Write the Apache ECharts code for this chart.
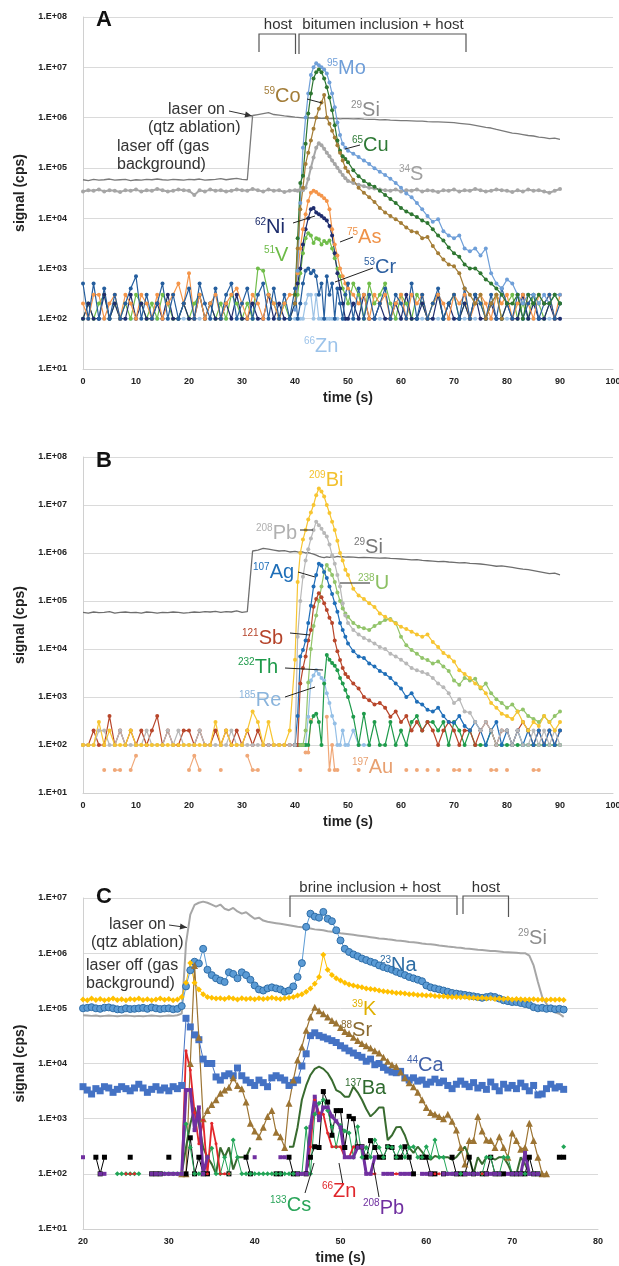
<!DOCTYPE html>
<html>
<head>
<meta charset="utf-8">
<script src="https://cdn.jsdelivr.net/npm/echarts@6/dist/echarts.min.js"></script>
<style>
html, body { margin: 0; padding: 0; background: #fff; }
#chart { width: 619px; height: 1266px; }
</style>
</head>
<body>
<div id="chart"></div>
<script>
var FONT = '"Liberation Sans", Arial, sans-serif';

// sweep times: 1 s outside the transient, 0.5 s across it (A and B), 0.5 s for C
var tA = [];
for (var t = 0; t < 40; t++) tA.push(t);
for (var t = 40; t < 50; t += 0.5) tA.push(t);
for (var t = 50; t <= 90; t++) tA.push(t);
var tC = [];
for (var i = 0; i <= 112; i++) tC.push(20 + i * 0.5);

// ---- panel A (cps) ----
var aSi = [
 5.8e4,5.6e4,5.9e4,5.7e4,5.8e4,6e4,5.7e4,5.8e4,5.9e4,5.6e4,
 5.8e4,5.7e4,5.9e4,5.8e4,6e4,5.8e4,5.7e4,5.9e4,5.8e4,5.7e4,
 5.9e4,5.8e4,6e4,5.7e4,5.8e4,5.9e4,6.1e4,5.8e4,6e4,6.2e4,
 5.9e4,5.8e4,1.1e6,1.15e6,1.2e6,1.25e6,1.15e6,1.12e6,1.08e6,1.05e6,
 1.02e6,1.01e6,1e6,9.9e5,1e6,9.9e5,9.8e5,9.9e5,9.7e5,9.8e5,
 9.6e5,9.7e5,9.6e5,9.5e5,9.6e5,9.5e5,9.6e5,9.4e5,9.5e5,9.5e5,
 9.5e5,9.4e5,9.5e5,9.3e5,9.2e5,9.2e5,9e5,9.1e5,8.9e5,8.8e5,
 8.7e5,8.7e5,8.6e5,8.5e5,8.5e5,8.3e5,8.2e5,8.2e5,8.1e5,8e5,
 7.9e5,7.7e5,7.5e5,7.3e5,7e5,6.7e5,6.4e5,6.2e5,5.8e5,5.5e5,
 5.2e5,4.9e5,4.8e5,4.6e5,4.4e5,4.3e5,4.1e5,4e5,3.8e5,3.9e5,
 3.7e5];
var aS = [
 3.4e4,3.6e4,3.5e4,3.7e4,3.4e4,3.6e4,3.5e4,3.3e4,3.6e4,3.5e4,
 3.7e4,3.4e4,3.6e4,3.5e4,3.8e4,3.6e4,3.4e4,3.5e4,3.7e4,3.6e4,
 3.5e4,2.9e4,3.6e4,3.4e4,3.7e4,3.5e4,3.6e4,3.4e4,3.5e4,3.7e4,
 3.6e4,3.5e4,3.8e4,3.6e4,3.4e4,3.7e4,3.5e4,3.6e4,3.3e4,3.5e4,
 3.6e4,3.5e4,3.7e4,3.6e4,4e4,6e4,1e5,1.6e5,2.5e5,3.1e5,
 2.8e5,2.4e5,2e5,1.7e5,1.4e5,1.2e5,1e5,8.5e4,7.2e4,6.2e4,
 5.5e4,5e4,4.6e4,4.3e4,4e4,3.9e4,3.7e4,3.6e4,3.5e4,3.7e4,
 3.4e4,3.6e4,3.5e4,3.7e4,3.4e4,3.6e4,3.5e4,3.3e4,3.6e4,3.5e4,
 3.7e4,3.4e4,3.6e4,3.5e4,3.8e4,3.6e4,3.4e4,3.5e4,3.7e4,3.6e4,
 3.5e4,3.3e4,3.6e4,3.4e4,3.7e4,3.5e4,3.6e4,3.4e4,3.2e4,3.5e4,
 3.8e4];
var aMo = [ // from 40 s
 150,900,2e4,2.5e5,1e6,3e6,7e6,1e7,1.2e7,1.1e7,
 1e7,9e6,7.5e6,5e6,3e6,1.6e6,8e5,4.5e5,3e5,2.5e5,
 2.2e5,1.9e5,1.65e5,1.4e5,1.2e5,9.8e4,8.4e4,7.2e4,6.1e4,5e4,
 4e4,3.1e4,2.6e4,2e4,1.5e4,1.1e4,8.5e3,9.5e3,5.5e3,4.5e3,
 4e3,4.5e3,2.5e3,2.2e3,2.5e3,1.8e3,2.5e3,800,500,400,
 600,500,300,200,300,300,200,300,200,300,
 300];
var aCu = [ // from 40 s
 300,4e3,5e4,7e4,3e5,1.2e6,3e6,6e6,8e6,9e6,
 8e6,6e6,4e6,2.5e6,1.4e6,7e5,3.5e5,2.2e5,1.7e5,1.5e5,
 1.3e5,9e4,6.8e4,5.5e4,4.7e4,4.2e4,3.5e4,2.9e4,2.4e4,2e4,
 1.6e4,1.35e4,1.2e4,1.05e4,9e3,8e3,6e3,4.5e3,3.6e3,2.6e3,
 2e3,1.7e3,1.2e3,1e3,1e3,800,600,500,400,300,
 200,200,300,100,300,200,300,200,200,300,
 200];
var aCo = [ // from 40 s
 200,2500,1.5e4,4e4,1.2e5,2e5,3.5e5,6e5,1e6,1.5e6,
 2e6,2.8e6,1e6,7.5e5,5.5e5,4e5,2.8e5,2e5,1.4e5,1e5,
 8.5e4,5.8e4,4e4,3.2e4,2.6e4,2.1e4,1.6e4,1.3e4,1.1e4,9.5e3,
 8e3,6.5e3,5.5e3,5.2e3,4e3,4.2e3,2.8e3,2e3,1.5e3,1.2e3,
 1.1e3,800,400,300,200,300,100,200,300,100];
var aAs = [
 200,100,300,300,100,200,300,100,300,200,
 100,300,200,100,300,100,200,300,500,200,
 800,100,300,100,200,300,100,200,300,400,
 200,100,300,200,100,300,200,100,200,300,
 300,800,2500,6000,1.2e4,2.2e4,3.2e4,3.5e4,3.3e4,3e4,
 2.8e4,2.5e4,2.2e4,1.5e4,6e3,3e3,1.8e3,1e3,700,500,
 400,300,200,300,100,300,200,300,100,200,
 300,100,300,200,300,100,200,300,200,100,
 300,200,300,100,200,300,200,100,300,200,
 300,100,200,300,200,100,300,200,300,100,
 300];
var aCr = [
 500,100,500,100,400,100,300,100,200,400,
 700,100,300,100,200,500,100,300,100,200,
 400,100,500,200,100,400,100,300,500,100,
 200,400,100,300,500,100,400,100,300,100,
 400,100,200,500,900,1e3,800,900,700,300,
 500,100,700,300,500,100,400,200,100,300,
 500,100,400,100,300,100,200,400,100,300,
 200,100,500,100,300,100,200,400,100,200,
 300,100,400,100,300,200,100,300,100,400,
 200,100,300,100,200,300,100,200,300,100,
 200];
var aNi = [
 100,200,100,100,300,100,200,100,100,300,
 100,200,100,100,200,100,300,100,100,200,
 100,100,300,100,200,100,100,200,100,300,
 100,100,200,100,100,300,100,200,100,100,
 200,500,1e3,3e3,6e3,1e4,1.5e4,1.6e4,1.3e4,1.2e4,
 1.1e4,1e4,9e3,7e3,4.5e3,2e3,800,400,200,100,
 100,200,100,300,100,100,200,100,100,200,
 100,300,100,100,200,100,100,300,100,200,
 100,100,200,100,300,100,100,200,100,100,
 200,100,100,300,100,200,100,100,200,100,
 100];
var aV = [
 100,200,100,200,300,100,200,100,200,100,
 300,200,100,200,100,300,200,100,100,200,
 100,200,300,100,200,100,200,100,300,200,
 100,200,100,1e3,900,300,200,100,200,100,
 200,300,800,2e3,4e3,5e3,4.5e3,3.2e3,4e3,3.8e3,
 3e3,3.5e3,3.2e3,3.6e3,2.5e3,1.6e3,1e3,700,400,300,
 200,500,300,100,500,200,300,500,200,100,
 300,200,100,300,200,100,200,300,100,200,
 300,100,200,100,300,200,100,200,300,100,
 200,300,100,200,100,300,200,100,200,300,
 200];
var aZn = [
 100,100,null,100,100,100,null,100,100,100,
 100,null,100,100,100,100,100,null,100,100,
 100,100,100,null,100,100,100,100,null,100,
 100,100,100,100,100,null,100,100,100,100,
 100,100,100,100,200,300,300,100,300,100,
 100,100,100,100,100,100,100,null,100,100,
 100,100,100,null,100,100,100,100,100,100,
 100,null,100,100,100,100,100,100,null,100,
 100,100,100,100,100,null,100,100,100,100,
 100,100,null,100,100,100,100,100,100,100,
 100];

// ---- panel B (cps) ----
var bSi = [
 5.8e4,5.6e4,5.9e4,5.7e4,5.8e4,6e4,5.6e4,5.8e4,5.9e4,5.7e4,
 5.8e4,5.6e4,5.9e4,5.8e4,5.6e4,5.8e4,5.7e4,5.9e4,5.8e4,5.6e4,
 5.7e4,5.9e4,5.8e4,6e4,5.9e4,6.1e4,5.8e4,6e4,5.9e4,6.2e4,
 5.8e4,6e4,1.1e6,1.15e6,1.25e6,1.2e6,1.15e6,1.1e6,1.12e6,1.05e6,
 1.08e6,1.05e6,1.04e6,1.05e6,1e6,1.02e6,9.8e5,9.5e5,9e5,8.5e5,
 8.2e5,8e5,8.3e5,8.1e5,8.4e5,8.2e5,8.5e5,8.3e5,8.4e5,8.2e5,
 8.3e5,8.2e5,8e5,8.1e5,8e5,7.9e5,7.8e5,7.9e5,7.7e5,7.6e5,
 7.5e5,7.4e5,7.2e5,7.3e5,7e5,6.9e5,6.8e5,6.6e5,6.7e5,6.5e5,
 6.4e5,6.2e5,6.3e5,6.1e5,6e5,5.9e5,5.7e5,5.5e5,5.3e5,5.4e5,
 5.2e5,5e5,4.8e5,4.6e5,4.5e5,4.3e5,4.1e5,3.9e5,3.7e5,3.8e5,
 3.5e5];
var bBi = [
 100,100,100,300,100,200,100,100,100,200,
 100,100,100,100,100,100,100,100,100,100,
 100,100,100,100,100,300,100,200,100,100,
 100,200,500,300,100,300,100,100,100,200,
 6e3,2.5e5,1e6,1.9e6,3e6,5e6,7e6,1e7,1.6e7,2.2e7,
 1.9e7,1.5e7,1e7,6.8e6,4.5e6,3e6,1.8e6,1e6,7e5,4.5e5,
 3.5e5,1.8e5,1.3e5,1.1e5,9e4,7.5e4,5.5e4,4.7e4,4e4,3.4e4,
 2.9e4,2.6e4,2.3e4,2e4,1.8e4,2e4,1.4e4,1.1e4,8.3e3,7e3,
 5.5e3,3.6e3,3e3,2.5e3,1.9e3,1.6e3,1.2e3,750,600,450,
 400,350,500,300,200,300,250,400,300,200,
 300];
var bPb = [
 100,100,100,200,200,100,100,200,100,100,
 100,100,200,100,100,100,200,100,200,100,
 100,100,200,100,100,100,100,100,200,100,
 100,100,100,100,100,100,100,100,100,100,
 100,1.8e4,1e5,3.2e5,7e5,1.2e6,2e6,3e6,4.5e6,3.8e6,
 3.2e6,2.6e6,2.2e6,1.5e6,9e5,6e5,3.5e5,2e5,9e4,5e4,
 3.5e4,2.5e4,2e4,1.7e4,1.5e4,1.3e4,1.1e4,1e4,8e3,7e3,
 6e3,5e3,4e3,3.6e3,3.3e3,3e3,2.5e3,1.9e3,1.6e3,1.2e3,
 750,900,500,470,300,200,300,200,100,200,
 200,100,200,100,100,200,100,200,100,200,
 100];
var bAg = [ // from 40 s
 100,400,7e3,9.5e3,1.5e4,3.5e4,8e4,2e5,3.5e5,6e5,
 5.5e5,4e5,3e5,2e5,1.4e5,9e4,6e4,3.5e4,2.5e4,1.8e4,
 1.3e4,9e3,7e3,6.5e3,5e3,4.3e3,3.5e3,3e3,2.5e3,1.9e3,
 1.5e3,1e3,1.2e3,800,700,540,500,600,400,300,
 290,400,250,200,300,200,100,200,300,100,
 200,100,200,100,200,100,200,100,200,100,
 200];
var bU = [ // from 41 s
 100,100,200,2e3,1e4,3e4,5e4,1e5,2e5,4e5,
 5.6e5,4.5e5,3.5e5,2.5e5,1.5e5,1e5,7e4,5.5e4,
 4.7e4,3.5e4,2.9e4,2.7e4,2.5e4,3e4,3.5e4,4e4,4.2e4,3.5e4,
 1.8e4,1.2e4,9.5e3,8e3,6.5e3,5.9e3,5e3,5.5e3,4.3e3,3.5e3,
 2.2e3,1.8e3,2.5e3,2.2e3,2.4e3,1.5e3,1.9e3,1.2e3,900,750,
 600,700,500,550,400,350,300,400,300,400,
 500];
var bSb = [
 100,100,200,100,100,400,100,200,100,200,
 100,200,100,200,400,100,200,100,100,200,
 200,100,200,100,100,200,100,200,100,200,
 100,200,100,200,100,100,100,100,100,100,
 100,100,1.9e3,4e3,7e3,1.5e4,2.5e4,7.6e4,1.1e5,1.45e5,
 1.2e5,9e4,6.5e4,4.5e4,3.5e4,1.5e4,9e3,5.9e3,4e3,3e3,
 2.6e3,1.9e3,1.5e3,1e3,860,700,750,600,390,500,
 300,400,200,300,200,300,200,100,200,300,
 200,100,200,200,100,200,300,200,100,200,
 200,100,200,300,200,100,200,100,200,100,
 200];
var bTh = [ // from 40 s
 100,100,100,100,100,100,300,400,450,300,
 100,1.9e3,7.5e3,6e3,5.1e3,4.5e3,3.6e3,2.5e3,1.9e3,1.4e3,
 1e3,390,100,450,100,300,100,100,300,100,
 200,100,300,400,200,300,300,200,300,100,
 300,200,100,200,100,100,100,200,100,100,
 100,100,100,100,100,100,100,100,100,100,
 100];
var bRe = [ // from 40 s
 100,100,100,100,100,390,2.2e3,2.8e3,3.6e3,3e3,
 2.5e3,2.2e3,1.2e3,750,400,280,100,100,200,100,
 100,200,100,100,100];
var bAu = [
 null,null,null,null,30,null,30,30,null,30,
 60,null,null,null,null,null,null,null,null,null,
 30,60,30,null,null,null,30,null,null,null,
 null,60,30,30,null,null,null,null,null,null,
 null,null,30,null,70,70,330,null,null,null,
 null,null,390,30,100,30,30,null,null,null,
 null,null,30,null,null,null,null,null,null,null,
 null,30,null,30,null,30,null,30,null,null,
 30,30,null,30,null,null,null,30,30,null,
 30,null,null,null,null,30,30,null,null,null,
 null];

// ---- panel C (cps), 0.5 s from 20 s ----
var cSi = [
 7.5e4,7.4e4,7.3e4,7.4e4,7.2e4,7.3e4,7.4e4,7.3e4,
 7.2e4,7.3e4,7.4e4,7.3e4,7.2e4,7.3e4,7.2e4,7.3e4,
 7.4e4,7.3e4,7.2e4,7.3e4,7.4e4,7.3e4,7.5e4,8e4,
 1.5e6,5e6,7.5e6,8.2e6,8.6e6,8.2e6,7.6e6,7e6,
 7.6e6,6.4e6,6e6,6.6e6,5.7e6,5.2e6,5.5e6,4.8e6,
 4.2e6,4.4e6,3.9e6,3.7e6,3.6e6,3.5e6,3.4e6,3.3e6,
 3.2e6,3.1e6,3e6,2.95e6,2.85e6,2.8e6,2.7e6,2.65e6,
 2.6e6,2.5e6,2.45e6,2.4e6,2.3e6,2.25e6,2.2e6,2.15e6,
 2.1e6,2.05e6,2e6,1.95e6,1.9e6,1.85e6,1.82e6,1.78e6,
 1.75e6,1.7e6,1.68e6,1.65e6,1.6e6,1.58e6,1.55e6,1.5e6,
 1.47e6,1.45e6,1.42e6,1.38e6,1.35e6,1.32e6,1.3e6,1.27e6,
 1.25e6,1.22e6,1.2e6,1.18e6,1.15e6,1.14e6,1.12e6,1.1e6,
 1.09e6,1.07e6,1.05e6,1.04e6,1.03e6,1.02e6,1e6,1e6,
 9e5,6e5,3e5,1.6e5,1.2e5,1e5,8.5e4,8e4,
 7e4];
var cNa = [
 1e5,1.02e5,1.05e5,1e5,9.8e4,1.03e5,1.04e5,1e5,
 9.6e4,9.5e4,1e5,9.7e4,9.8e4,1e5,1.02e5,9.8e4,
 1.04e5,1e5,9.7e4,9.9e4,1e5,9.6e4,9.8e4,1.1e5,
 2.5e5,4.9e5,7e5,6.5e5,1.2e6,5e5,4e5,3.5e5,
 3.2e5,3e5,4.5e5,4.2e5,3.5e5,4.5e5,4e5,3.3e5,
 2.6e5,2.2e5,2.1e5,2.3e5,2.4e5,2.3e5,2.2e5,2e5,
 2.1e5,2.5e5,3.7e5,6.6e5,3e6,5.2e6,4.6e6,4.4e6,
 5.6e6,4.2e6,3.8e6,2.6e6,1.7e6,1.2e6,1.05e6,9.5e5,
 8.8e5,8e5,7.5e5,7e5,6.6e5,6e5,5.6e5,5.3e5,
 5e5,4.6e5,4.3e5,4e5,3.7e5,3.5e5,3.3e5,3.1e5,
 2.6e5,2.4e5,2.3e5,2.2e5,2.1e5,2e5,1.9e5,1.85e5,
 1.8e5,1.75e5,1.7e5,1.65e5,1.6e5,1.55e5,1.6e5,1.65e5,
 1.6e5,1.5e5,1.4e5,1.35e5,1.3e5,1.3e5,1.25e5,1.2e5,
 1.15e5,1.05e5,1e5,1.02e5,9.8e4,1e5,9.6e4,9.8e4,
 9.5e4];
var cK = [
 1.45e5,1.4e5,1.5e5,1.42e5,1.48e5,1.4e5,1.45e5,1.5e5,
 1.42e5,1.46e5,1.4e5,1.48e5,1.44e5,1.5e5,1.42e5,1.46e5,
 1.4e5,1.45e5,1.5e5,1.43e5,1.47e5,1.4e5,1.45e5,1.6e5,
 2.9e5,6.6e5,2.9e5,2.2e5,1.8e5,1.6e5,1.55e5,1.5e5,
 1.52e5,1.48e5,1.55e5,1.5e5,1.45e5,1.52e5,1.48e5,1.5e5,
 1.46e5,1.52e5,1.48e5,1.5e5,1.55e5,1.5e5,1.48e5,1.52e5,
 1.55e5,1.6e5,1.7e5,1.8e5,2e5,2.3e5,2.8e5,3.7e5,
 9.4e5,5e5,4e5,3.5e5,3.2e5,2.9e5,2.7e5,2.6e5,
 2.5e5,2.4e5,2.3e5,2.25e5,2.2e5,2.1e5,2.05e5,2e5,
 1.95e5,1.9e5,1.9e5,1.85e5,1.8e5,1.8e5,1.75e5,1.75e5,
 1.7e5,1.72e5,1.68e5,1.65e5,1.66e5,1.62e5,1.6e5,1.6e5,
 1.58e5,1.6e5,1.55e5,1.56e5,1.52e5,1.55e5,1.5e5,1.52e5,
 1.48e5,1.5e5,1.47e5,1.5e5,1.45e5,1.48e5,1.46e5,1.45e5,
 1.44e5,1.46e5,1.43e5,1.45e5,1.42e5,1.44e5,1.43e5,1.45e5,
 1.42e5];
var cSr = [ // from 31.5 s
 100,
 100,1e4,6e5,3e4,1e3,1.4e3,1.8e3,2.2e3,
 2.9e3,3.3e3,3.7e3,5.5e3,4e3,3.5e3,2e3,830,
 600,470,700,1.1e3,1.4e3,570,470,300,
 1.9e3,5e3,1.16e4,2e4,4e4,7e4,1.05e5,9e4,
 8e4,7e4,6e4,5.4e4,4.5e4,3.8e4,3.5e4,3e4,
 2.6e4,2.3e4,2.1e4,1.9e4,1.7e4,1.55e4,1.3e4,1.1e4,
 9.5e3,8.8e3,7e3,5.5e3,4.5e3,3.8e3,3e3,2.2e3,
 1.6e3,1.3e3,1.2e3,1.1e3,1e3,1.2e3,900,620,
 300,150,400,400,1.1e3,600,410,400,
 300,470,300,200,550,400,280,300,
 830,400,200,100,100];
var cCa = [
 3.8e3,3.3e3,2.8e3,3.5e3,3.2e3,3.8e3,3.6e3,3e3,
 3.4e3,3.8e3,3.5e3,3.2e3,3.6e3,4.2e3,3.6e3,3e3,
 3.4e3,3.8e3,3.3e3,3.6e3,3.2e3,3.8e3,3.5e3,4e3,
 6.6e4,4.6e4,3.3e4,2.7e4,1.2e4,1e4,1e4,5.7e3,
 5e3,6e3,6.5e3,6e3,8.3e3,6e3,5e3,4.5e3,
 4e3,5e3,4.5e3,3.8e3,5.5e3,6e3,5.5e3,5e3,
 4e3,4.5e3,5e3,9e3,1.5e4,3.2e4,3.6e4,3.2e4,
 3e4,2.8e4,2.6e4,2.4e4,2.1e4,1.9e4,1.7e4,1.55e4,
 1.4e4,1.3e4,1.1e4,1.2e4,9.5e3,1e4,8.5e3,7.6e3,
 7e3,6.8e3,7.2e3,5.5e3,5e3,5.5e3,4.8e3,5e3,
 4.2e3,4.6e3,5.2e3,4.5e3,4.8e3,4e3,3.5e3,4.2e3,
 4.8e3,4.2e3,3.8e3,4.5e3,3.6e3,4e3,3.4e3,4.6e3,
 3.8e3,3.2e3,4.2e3,3.6e3,4e3,3.5e3,4.4e3,3.8e3,
 3.2e3,4e3,2.7e3,2.8e3,3.5e3,4.2e3,3.6e3,3.8e3,
 3.4e3];
var cBa = [ // from 31.5 s
 100,
 300,800,1.6e3,800,300,200,150,100,
 300,200,300,120,200,200,200,300,
 null,null,null,null,null,null,null,null,
 310,310,700,2.2e3,4e3,6.2e3,8e3,8.8e3,
 8e3,6.7e3,5e3,3.3e3,3e3,2.5e3,2.5e3,3.8e3,
 3e3,2.2e3,1.5e3,1.1e3,1.3e3,1.6e3,1.6e3,410,
 500,700,710,500,300,240,310,250,
 200,180,210,200,200,200,180,200,
 250,310,200,100,200,150,200,200,
 180,200,200,150,100,100,200,150,
 100,100,100];
var cZn = [ // from 25 s
 100,100,100,null,null,null,null,null,null,100,100,100,100,100,
 1.7e4,7.6e3,1.3e3,350,940,100,830,350,
 100,100,100,null,null,null,null,null,
 null,null,null,null,null,null,null,null,
 null,null,null,100,100,310,2.2e3,1.27e3,
 1.2e3,550,310,310,310,200,200,310,
 310,300,100,100,100,null,null,null,
 100,100,100,100,100,null,null,null,
 null,100,100,100,null,null,null,null,
 null,null,null,null,100,100,100,null,
 null,null,null,null,null,null,null,null,
 null,null,null];
var cPb = [
 200,null,null,null,100,100,null,null,
 null,null,null,null,null,null,null,null,
 100,100,100,100,100,100,100,100,
 3.3e3,3.3e3,620,1.6e3,100,200,null,null,
 null,null,null,null,null,null,null,null,
 200,null,null,null,null,null,200,200,
 null,null,100,100,100,700,2.5e3,940,
 1.6e3,1.6e3,1.1e3,900,700,200,200,200,
 300,310,100,100,200,null,100,100,
 100,null,100,100,100,null,null,100,
 100,100,null,null,100,100,100,100,
 null,100,100,100,100,null,100,100,
 100,100,null,100,100,100,100,240,
 100,100,100];
var cCs = [ // from 24 s
 100,100,100,100,100,100,null,null,
 null,null,100,100,100,100,100,100,
 800,300,100,100,100,200,290,100,
 100,200,100,410,200,100,100,100,
 100,100,100,100,100,100,100,100,
 100,100,100,100,680,100,1.2e3,1.9e3,
 2.2e3,1.4e3,710,310,750,600,550,200,
 710,200,300,200,410,300,200,310,
 300,200,310,200,300,310,200,200,
 310,200,410,200,200,100,100,100,
 100,100,100,100,100,100,200,200,
 100,100,200,200,100,100,100,100,
 100,100,100,null,null,null,null,null,
 310];
var cBk = [
 null,null,null,200,100,200,null,null,
 null,null,null,200,null,null,null,null,
 100,100,100,null,200,null,null,null,
 100,450,100,200,100,100,null,null,
 null,null,100,null,null,null,200,100,
 null,null,null,null,null,100,100,null,
 200,100,100,null,100,200,310,300,
 3.1e3,2e3,500,1.4e3,1.4e3,300,1.1e3,1e3,
 310,310,200,400,300,200,200,310,
 300,200,200,310,200,100,null,200,
 200,100,100,null,100,null,200,100,
 100,100,200,100,null,100,100,200,
 100,100,100,null,100,100,100,100,
 200,100,100,null,null,null,null,200,
 200];

// ---- annotations (pixel positions) ----
var panelLetters = [['A', 96, 20], ['B', 96, 461], ['C', 96, 897]];
var notes = [
  ['laser on', 168, 110], ['(qtz ablation)', 148, 128], ['laser off (gas', 117, 147], ['background)', 117, 165],
  ['laser on', 109, 925], ['(qtz ablation)', 91, 943], ['laser off (gas', 86, 966], ['background)', 86, 984]
];
var bracketNotes = [
  ['host', 278, 25], ['bitumen inclusion + host', 383, 25],
  ['brine inclusion + host', 370, 888], ['host', 486, 888]
];
var brackets = [
  [[259, 52], [259, 34], [295.5, 34], [295.5, 54]],
  [[299, 54], [299, 34], [466, 34], [466, 52]],
  [[290, 917], [290, 896], [457, 896], [457, 915]],
  [[463, 914], [463, 896], [508.5, 896], [508.5, 917]]
];
var arrows = [[229, 111, 252, 116], [169, 925, 187, 927.5]];
var isoLabels = [
  [327, 68, '95', 'Mo', '#6f9ed8'], [264, 96, '59', 'Co', '#a27c37'], [351, 110, '29', 'Si', '#8c8c8c'],
  [352, 145, '65', 'Cu', '#2f7a36'], [399, 174, '34', 'S', '#a0a0a0'], [255, 227, '62', 'Ni', '#1c2b6b'],
  [347, 237, '75', 'As', '#ef9248'], [264, 255, '51', 'V', '#6dbb48'], [364, 267, '53', 'Cr', '#2c5fa0'],
  [304, 346, '66', 'Zn', '#9cc3ea'],
  [309, 480, '209', 'Bi', '#f2c12e'], [256, 533, '208', 'Pb', '#b0b0b0'], [354, 547, '29', 'Si', '#777777'],
  [253, 572, '107', 'Ag', '#1f6fb8'], [358, 583, '238', 'U', '#8cc063'], [242, 638, '121', 'Sb', '#b5432a'],
  [238, 667, '232', 'Th', '#1e9a4a'], [239, 700, '185', 'Re', '#8ab4dc'], [352, 767, '197', 'Au', '#e8a070'],
  [518, 938, '29', 'Si', '#8c8c8c'], [380, 965, '23', 'Na', '#2e6da4'], [352, 1009, '39', 'K', '#e0b000'],
  [341, 1030, '88', 'Sr', '#8a6a30'], [407, 1065, '44', 'Ca', '#4060a8'], [345, 1088, '137', 'Ba', '#2f6b2f'],
  [270, 1205, '133', 'Cs', '#2aa55a'], [322, 1191, '66', 'Zn', '#e0262b'], [363, 1208, '208', 'Pb', '#7030a0']
];
var leaders = [
  [307, 99, 322, 103], [360, 145, 345, 149], [293, 223, 315, 216], [353, 237, 340, 242], [373, 268, 335, 282],
  [300, 530, 313, 530], [298, 572, 315, 577], [370, 583, 340, 583], [290, 633, 310, 635], [285, 668, 323, 670], [285, 697, 315, 687],
  [305, 1193, 314, 1163], [343, 1185, 339, 1163], [379, 1197, 373, 1163]
];

function pts(ts, vals, off) {
  off = off || 0;
  return vals.map(function (v, i) { return [ts[i + off], v == null ? '-' : v]; });
}

function line(grid, name, data, color, o) {
  o = o || {};
  var size = o.size == null ? 4 : o.size;
  return {
    name: name, type: 'line', xAxisIndex: grid, yAxisIndex: grid, data: data,
    symbol: size ? (o.symbol || 'circle') : 'none', symbolSize: size,
    lineStyle: { color: color, width: o.width || 1.2 },
    itemStyle: { color: o.fill || color, borderColor: o.border || color, borderWidth: o.border ? 1 : 0 },
    connectNulls: false, silent: true, animation: false, z: 2
  };
}

var axisFont = { fontFamily: FONT, fontSize: 9, fontWeight: 'bold', color: '#222' };
var nameFont = { fontFamily: FONT, fontSize: 14, fontWeight: 'bold', color: '#222' };

function xAx(grid, min, max) {
  return {
    type: 'value', gridIndex: grid, min: min, max: max, interval: 10,
    name: 'time (s)', nameLocation: 'middle', nameGap: 22, nameTextStyle: nameFont,
    axisLine: { show: true, onZero: false, lineStyle: { color: '#d0d0d0' } },
    axisTick: { show: false },
    axisLabel: Object.assign({ margin: 8 }, axisFont),
    splitLine: { show: false }
  };
}
function yAx(grid, max, n) {
  return {
    type: 'log', logBase: 10, gridIndex: grid, min: 10, max: max, splitNumber: n,
    name: 'signal (cps)', nameLocation: 'middle', nameGap: 47, nameTextStyle: nameFont,
    axisLine: { show: true, lineStyle: { color: '#d0d0d0' } },
    axisTick: { show: false },
    axisLabel: Object.assign({
      margin: 16,
      formatter: function (v) {
        var e = Math.round(Math.log10(v));
        return '1.E+' + (e < 10 ? '0' : '') + e;
      }
    }, axisFont),
    splitLine: { show: true, lineStyle: { color: '#dadada' } }
  };
}

var graphics = [];
panelLetters.forEach(function (p) {
  graphics.push({ type: 'text', x: p[1], y: p[2], z: 50,
    style: { text: p[0], fontFamily: FONT, fontSize: 22, fontWeight: 'bold', fill: '#111', verticalAlign: 'middle' } });
});
notes.forEach(function (n) {
  graphics.push({ type: 'text', x: n[1], y: n[2], z: 50,
    style: { text: n[0], fontFamily: FONT, fontSize: 16, fill: '#333', verticalAlign: 'middle' } });
});
bracketNotes.forEach(function (n) {
  graphics.push({ type: 'text', x: n[1], y: n[2], z: 50,
    style: { text: n[0], fontFamily: FONT, fontSize: 15, fill: '#333', align: 'center', verticalAlign: 'middle' } });
});
brackets.forEach(function (b) {
  graphics.push({ type: 'polyline', z: 50, shape: { points: b }, style: { stroke: '#555', lineWidth: 1.2, fill: null } });
});
arrows.forEach(function (a) {
  var dx = a[2] - a[0], dy = a[3] - a[1], len = Math.sqrt(dx * dx + dy * dy);
  dx /= len; dy /= len;
  graphics.push({ type: 'line', z: 50, shape: { x1: a[0], y1: a[1], x2: a[2], y2: a[3] }, style: { stroke: '#333', lineWidth: 1 } });
  graphics.push({ type: 'polygon', z: 50, shape: { points: [
    [a[2], a[3]],
    [a[2] - 7 * dx - 3 * dy, a[3] - 7 * dy + 3 * dx],
    [a[2] - 7 * dx + 3 * dy, a[3] - 7 * dy - 3 * dx]
  ] }, style: { fill: '#333' } });
});
leaders.forEach(function (l) {
  graphics.push({ type: 'line', z: 50, shape: { x1: l[0], y1: l[1], x2: l[2], y2: l[3] }, style: { stroke: '#222', lineWidth: 1 } });
});
isoLabels.forEach(function (l) {
  graphics.push({ type: 'text', x: l[0], y: l[1], z: 50,
    style: {
      text: '{s|' + l[2] + '}{e|' + l[3] + '}', verticalAlign: 'middle',
      rich: {
        s: { fontFamily: FONT, fontSize: 10, fill: l[4], verticalAlign: 'top' },
        e: { fontFamily: FONT, fontSize: 20, fill: l[4], verticalAlign: 'bottom' }
      }
    } });
});

var series = [
  // A
  line(0, '29Si', pts(tA, aSi), '#7a7a7a', { size: 0, width: 1.3 }),
  line(0, '34S', pts(tA, aS), '#a6a6a6', { width: 2 }),
  line(0, '66Zn', pts(tA, aZn), '#9dc3e6'),
  line(0, '51V', pts(tA, aV), '#70bd4a'),
  line(0, '62Ni', pts(tA, aNi), '#1f2d6e'),
  line(0, '75As', pts(tA, aAs), '#f4954a'),
  line(0, '53Cr', pts(tA, aCr), '#255e9e'),
  line(0, '95Mo', pts(tA, aMo, 40), '#6f9fd8'),
  line(0, '65Cu', pts(tA, aCu, 40), '#2e7631'),
  line(0, '59Co', pts(tA, aCo, 40), '#a47d36'),
  // B
  line(1, '29Si', pts(tA, bSi), '#6e6e6e', { size: 0, width: 1.3 }),
  line(1, '197Au', pts(tA, bAu), '#f0a878'),
  line(1, '185Re', pts(tA, bRe, 40), '#94bfe6'),
  line(1, '232Th', pts(tA, bTh, 40), '#1f9b4b'),
  line(1, '121Sb', pts(tA, bSb), '#b8462b'),
  line(1, '238U', pts(tA, bU, 42), '#92c46a'),
  line(1, '107Ag', pts(tA, bAg, 40), '#1f6eb8'),
  line(1, '208Pb', pts(tA, bPb), '#b8b8b8'),
  line(1, '209Bi', pts(tA, bBi), '#f7c531'),
  // C
  line(2, '29Si', pts(tC, cSi), '#a6a6a6', { size: 0, width: 2 }),
  line(2, '23Na', pts(tC, cNa), '#5b9bd5', { size: 7, width: 1, border: '#2f6ea8' }),
  line(2, '39K', pts(tC, cK), '#ffc000', { size: 6, symbol: 'diamond', width: 1 }),
  line(2, '44Ca', pts(tC, cCa), '#4472c4', { size: 7, symbol: 'rect', width: 1 }),
  line(2, '88Sr', pts(tC, cSr, 23), '#9c7433', { size: 7, symbol: 'triangle', width: 1.2 }),
  line(2, '137Ba', pts(tC, cBa, 23), '#386b2f', { size: 0, width: 2 }),
  line(2, 'other', pts(tC, cBk), '#000000', { size: 5, symbol: 'rect', width: 1 }),
  line(2, '133Cs', pts(tC, cCs, 8), '#22a557', { size: 5, symbol: 'diamond', width: 1 }),
  line(2, '66Zn', pts(tC, cZn, 10), '#e2262b', { size: 3, width: 1.8 }),
  line(2, '208Pb', pts(tC, cPb), '#7030a0', { size: 4, symbol: 'rect', width: 3 })
];

var chart = echarts.init(document.getElementById('chart'), null, { renderer: 'canvas' });
chart.setOption({
  animation: false,
  backgroundColor: '#ffffff',
  grid: [
    { left: 83, top: 17, width: 530, height: 352, outerBoundsMode: 'none' },
    { left: 83, top: 457, width: 530, height: 336, outerBoundsMode: 'none' },
    { left: 83, top: 898, width: 515, height: 331, outerBoundsMode: 'none' }
  ],
  xAxis: [xAx(0, 0, 100), xAx(1, 0, 100), xAx(2, 20, 80)],
  yAxis: [yAx(0, 1e8, 7), yAx(1, 1e8, 7), yAx(2, 1e7, 6)],
  series: series,
  graphic: graphics
});
</script>
</body>
</html>
